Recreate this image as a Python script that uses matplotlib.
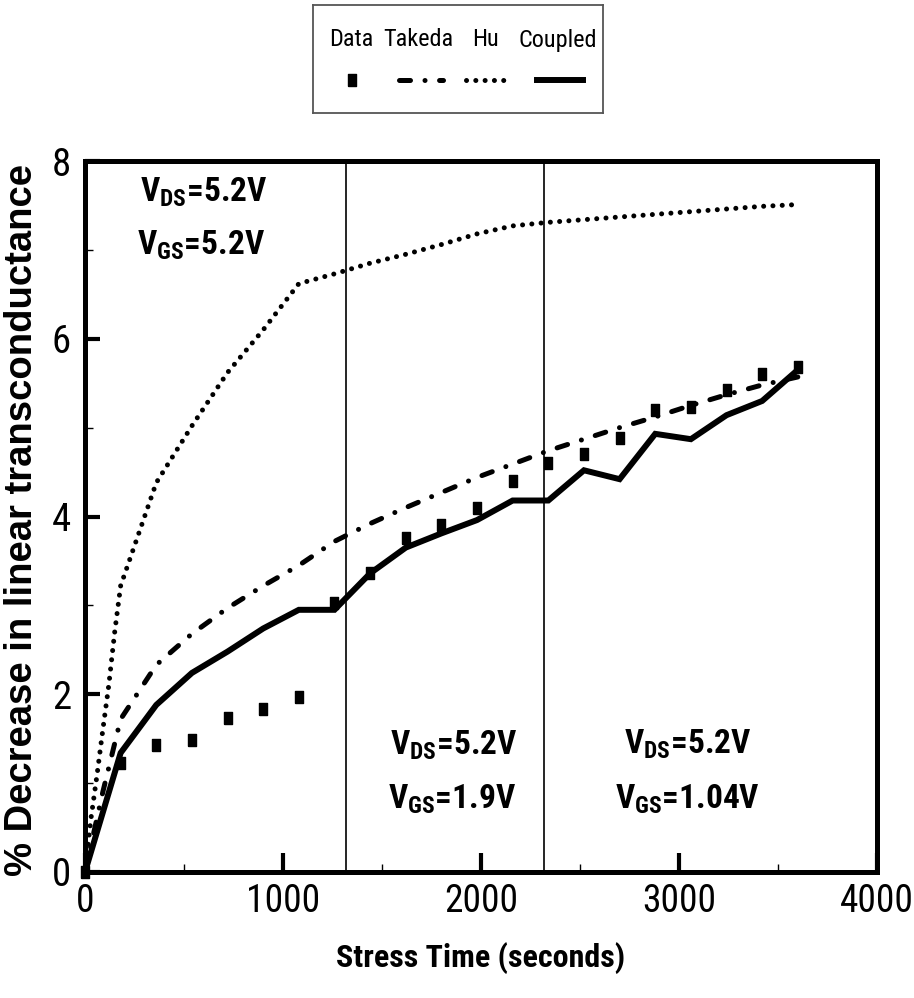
import matplotlib
matplotlib.use("Agg")
import matplotlib.pyplot as plt
from matplotlib import font_manager as fm
from matplotlib.lines import Line2D
from matplotlib.ticker import MultipleLocator

# --- fuentes: una sans estrecha si la hay ---
nombres = {f.name for f in fm.fontManager.ttflist}
NARROW = next((n for n in ["Roboto Condensed", "Barlow Condensed",
                           "Liberation Sans Narrow", "Liberation Sans"]
               if n in nombres), "DejaVu Sans")
plt.rcParams["font.family"] = [NARROW, "DejaVu Sans"]
plt.rcParams["mathtext.fontset"] = "custom"
plt.rcParams["mathtext.rm"] = f"{NARROW}:bold"
plt.rcParams["mathtext.it"] = f"{NARROW}:bold"
plt.rcParams["mathtext.bf"] = f"{NARROW}:bold"

# --- datos ---
t_data = [0, 180, 360, 540, 720, 900, 1080, 1260, 1440, 1620, 1800,
          1980, 2160, 2340, 2520, 2700, 2880, 3060, 3240, 3420, 3600]
data = [0, 1.23, 1.43, 1.48, 1.73, 1.83, 1.97, 3.03, 3.36, 3.76, 3.90,
        4.10, 4.40, 4.60, 4.70, 4.88, 5.20, 5.23, 5.42, 5.60, 5.68]
coupled = [0, 1.34, 1.88, 2.24, 2.48, 2.74, 2.95, 2.95, 3.36, 3.65, 3.81,
           3.96, 4.18, 4.18, 4.52, 4.42, 4.93, 4.87, 5.14, 5.30, 5.65]

t_takeda = [0, 90, 180, 360, 540, 720, 900, 1080, 1260, 1440, 1620, 1800,
            1980, 2160, 2340, 2520, 2700, 2880, 3060, 3240, 3420, 3600]
takeda = [0, 0.9, 1.72, 2.33, 2.68, 2.97, 3.22, 3.45, 3.72, 3.92, 4.10, 4.27,
          4.44, 4.59, 4.74, 4.87, 5.00, 5.12, 5.25, 5.37, 5.48, 5.57]

t_hu = [0, 30, 60, 90, 120, 150, 180, 270, 360, 540, 720, 900, 1080, 1260,
        1440, 1620, 1800, 1980, 2160, 2340, 2520, 2700, 2880, 3060, 3240,
        3420, 3600]
hu = [0, 0.6, 1.08, 1.6, 2.1, 2.7, 3.22, 3.8, 4.38, 5.02, 5.62, 6.1, 6.62,
      6.73, 6.85, 6.95, 7.06, 7.18, 7.27, 7.31, 7.34, 7.37, 7.40, 7.43,
      7.46, 7.49, 7.51]

cambios = [1320, 2320]   # cambios de condicion de estres (s)

# marcador rectangular (mas alto que ancho, como en la figura)
RECT = [(-0.72, -1), (0.72, -1), (0.72, 1), (-0.72, 1), (-0.72, -1)]
EST_TAKEDA = dict(color="black", lw=3.6, dashes=(2.2, 2.9, 0.01, 2.9),
                  dash_capstyle="round")
EST_HU = dict(color="black", lw=3.6, dashes=(0.01, 1.85), dash_capstyle="round")
EST_COUP = dict(color="black", lw=4.3, solid_joinstyle="miter")

fig = plt.figure(figsize=(9.14, 9.98), dpi=100)
ax = fig.add_axes([85 / 914, 1 - 872 / 998, (877 - 85) / 914, (872 - 161) / 998])

for tc in cambios:
    ax.axvline(tc, color="black", lw=1.2, zorder=1)

ax.plot(t_hu, hu, **EST_HU, zorder=2)
ax.plot(t_takeda, takeda, **EST_TAKEDA, zorder=2)
ax.plot(t_data, coupled, **EST_COUP, zorder=3)
ax.plot(t_data, data, ls="none", marker=RECT, ms=8, color="black",
        clip_on=False, zorder=4)

ax.set_xlim(0, 4000)
ax.set_ylim(0, 8)
ax.xaxis.set_major_locator(MultipleLocator(1000))
ax.xaxis.set_minor_locator(MultipleLocator(500))
ax.yaxis.set_major_locator(MultipleLocator(2))
ax.yaxis.set_minor_locator(MultipleLocator(1))
for s in ax.spines.values():
    s.set_linewidth(3.6)
ax.tick_params(axis="both", which="both", direction="in", top=False, right=False)
ax.tick_params(axis="x", which="major", length=14, width=3, pad=8, labelsize=27)
ax.tick_params(axis="y", which="major", length=11, width=3, pad=10, labelsize=28)
ax.tick_params(axis="both", which="minor", length=6, width=1)

# anotaciones de condiciones de estres
kw = dict(ha="center", va="center", fontsize=24, fontweight="bold")
ax.text(600, 7.65, "V$_{DS}$=5.2V", **kw)
ax.text(584, 7.05, "V$_{GS}$=5.2V", **kw)
ax.text(1864, 1.42, "V$_{DS}$=5.2V", **kw)
ax.text(1854, 0.82, "V$_{GS}$=1.9V", **kw)
ax.text(3045, 1.44, "V$_{DS}$=5.2V", **kw)
ax.text(3045, 0.82, "V$_{GS}$=1.04V", **kw)

fig.text(481 / 914, 1 - 958 / 998, "Stress Time (seconds)", ha="center",
         va="center", fontsize=23, fontweight="bold")
fig.text(22 / 914, 1 - 520 / 998, "% Decrease in linear transconductance",
         ha="center", va="center", rotation=90, fontsize=27.5,
         fontweight="bold", family=["Liberation Sans", "DejaVu Sans"])

# leyenda dibujada a mano (texto encima de cada muestra)
lg = fig.add_axes([313 / 914, 1 - 113 / 998, (603 - 313) / 914, (113 - 5) / 998])
lg.set_xlim(313, 603)
lg.set_ylim(113, 5)
lg.set_xticks([])
lg.set_yticks([])
for s in lg.spines.values():
    s.set_linewidth(1.3)
    s.set_edgecolor("#555555")
for x, lab in zip([351, 418, 485, 558], ["Data", "Takeda", "Hu", "Coupled"]):
    lg.text(x, 40, lab, ha="center", va="center", fontsize=17.5)
lg.add_line(Line2D([352], [80], ls="none", marker=RECT, ms=8, color="black"))
lg.add_line(Line2D([399, 443], [80, 80], **EST_TAKEDA))
lg.add_line(Line2D([466, 507], [80, 80], **EST_HU))
lg.add_line(Line2D([537, 583], [80, 80], **EST_COUP))

fig.savefig("out.png", dpi=100, facecolor="white")
